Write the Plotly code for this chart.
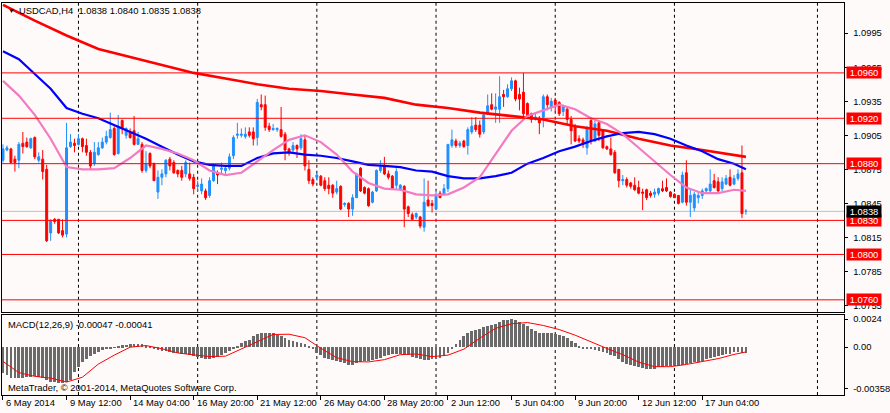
import plotly.graph_objects as go

# USDCAD H4 candles, bar 0 = 6 May 2014 20:00 (weekends skipped, 6 bars a day)
opens = [1.0883, 1.0892, 1.0893, 1.0884, 1.0883, 1.0898, 1.0899, 1.0894, 1.0903, 1.0883,
         1.0884, 1.0875, 1.0819, 1.0831, 1.0831, 1.0821, 1.0818, 1.0895, 1.0898, 1.0897,
         1.0902, 1.0896, 1.0890, 1.0880, 1.0888, 1.0894, 1.0899, 1.0903, 1.0911, 1.0889,
         1.0918, 1.0905, 1.0908, 1.0909, 1.0897, 1.0897, 1.0874, 1.0889, 1.0880, 1.0855,
         1.0868, 1.0871, 1.0884, 1.0881, 1.0874, 1.0874, 1.0871, 1.0871, 1.0868, 1.0860,
         1.0856, 1.0856, 1.0852, 1.0865, 1.0872, 1.0875, 1.0874, 1.0876, 1.0887, 1.0905,
         1.0905, 1.0904, 1.0908, 1.0908, 1.0903, 1.0932, 1.0932, 1.0913, 1.0910, 1.0910,
         1.0910, 1.0906, 1.0893, 1.0892, 1.0896, 1.0894, 1.0901, 1.0875, 1.0866, 1.0868,
         1.0869, 1.0865, 1.0861, 1.0861, 1.0855, 1.0860, 1.0844, 1.0845, 1.0840, 1.0850,
         1.0876, 1.0859, 1.0858, 1.0846, 1.0856, 1.0874, 1.0878, 1.0871, 1.0869, 1.0861,
         1.0858, 1.0860, 1.0842, 1.0835, 1.0833, 1.0833, 1.0824, 1.0848, 1.0845, 1.0840,
         1.0854, 1.0853, 1.0858, 1.0896, 1.0900, 1.0896, 1.0900, 1.0896, 1.0908, 1.0914,
         1.0914, 1.0908, 1.0925, 1.0932, 1.0928, 1.0928, 1.0941, 1.0939, 1.0946, 1.0953,
         1.0941, 1.0943, 1.0933, 1.0924, 1.0919, 1.0920, 1.0921, 1.0939, 1.0930, 1.0936,
         1.0934, 1.0926, 1.0928, 1.0919, 1.0913, 1.0902, 1.0901, 1.0894, 1.0918, 1.0900,
         1.0916, 1.0909, 1.0895, 1.0893, 1.0890, 1.0875, 1.0865, 1.0866, 1.0863, 1.0861,
         1.0859, 1.0855, 1.0857, 1.0854, 1.0853, 1.0854, 1.0858, 1.0859, 1.0855, 1.0853,
         1.0852, 1.0846, 1.0872, 1.0846, 1.0841, 1.0850, 1.0852, 1.0856, 1.0856, 1.0865,
         1.0864, 1.0858, 1.0862, 1.0868, 1.0862, 1.0867, 1.0872, 1.0838]
highs = [1.0897, 1.0896, 1.0894, 1.0887, 1.0899, 1.0908, 1.0903, 1.0903, 1.0904, 1.0890,
         1.0892, 1.0879, 1.0831, 1.0832, 1.0831, 1.0831, 1.0916, 1.0906, 1.0902, 1.0906,
         1.0903, 1.0902, 1.0892, 1.0899, 1.0899, 1.0903, 1.0909, 1.0925, 1.0913, 1.0923,
         1.0919, 1.0912, 1.0911, 1.0922, 1.0908, 1.0899, 1.0891, 1.0890, 1.0881, 1.0874,
         1.0875, 1.0884, 1.0886, 1.0883, 1.0875, 1.0878, 1.0883, 1.0881, 1.0871, 1.0865,
         1.0867, 1.0858, 1.0868, 1.0880, 1.0874, 1.0881, 1.0878, 1.0889, 1.0905, 1.0916,
         1.0911, 1.0912, 1.0912, 1.0912, 1.0937, 1.0941, 1.0940, 1.0916, 1.0915, 1.0912,
         1.0930, 1.0908, 1.0894, 1.0899, 1.0897, 1.0906, 1.0905, 1.0883, 1.0868, 1.0872,
         1.0870, 1.0868, 1.0868, 1.0862, 1.0865, 1.0861, 1.0846, 1.0846, 1.0853, 1.0872,
         1.0877, 1.0860, 1.0859, 1.0856, 1.0875, 1.0883, 1.0886, 1.0874, 1.0870, 1.0876,
         1.0862, 1.0861, 1.0843, 1.0837, 1.0837, 1.0834, 1.0867, 1.0865, 1.0848, 1.0855,
         1.0856, 1.0862, 1.0897, 1.0910, 1.0902, 1.0900, 1.0901, 1.0912, 1.0921, 1.0921,
         1.0918, 1.0925, 1.0941, 1.0942, 1.0942, 1.0957, 1.0945, 1.0950, 1.0956, 1.0954,
         1.0947, 1.0960, 1.0934, 1.0925, 1.0925, 1.0922, 1.0941, 1.0941, 1.0938, 1.0938,
         1.0935, 1.0932, 1.0930, 1.0922, 1.0915, 1.0905, 1.0903, 1.0913, 1.0921, 1.0918,
         1.0918, 1.0910, 1.0896, 1.0903, 1.0892, 1.0875, 1.0870, 1.0868, 1.0864, 1.0868,
         1.0865, 1.0858, 1.0858, 1.0856, 1.0858, 1.0859, 1.0865, 1.0867, 1.0856, 1.0854,
         1.0852, 1.0873, 1.0883, 1.0858, 1.0855, 1.0855, 1.0858, 1.0859, 1.0875, 1.0871,
         1.0868, 1.0868, 1.0870, 1.0875, 1.0870, 1.0875, 1.0896, 1.0840]
lows = [1.0881, 1.0891, 1.0880, 1.0873, 1.0876, 1.0889, 1.0894, 1.0893, 1.0884, 1.0881,
        1.0866, 1.0811, 1.0812, 1.0827, 1.0818, 1.0815, 1.0815, 1.0894, 1.0890, 1.0896,
        1.0890, 1.0887, 1.0875, 1.0878, 1.0887, 1.0893, 1.0897, 1.0902, 1.0887, 1.0888,
        1.0906, 1.0902, 1.0902, 1.0896, 1.0897, 1.0872, 1.0872, 1.0876, 1.0865, 1.0849,
        1.0861, 1.0868, 1.0874, 1.0871, 1.0868, 1.0865, 1.0868, 1.0865, 1.0853, 1.0856,
        1.0853, 1.0848, 1.0850, 1.0864, 1.0862, 1.0871, 1.0871, 1.0874, 1.0884, 1.0902,
        1.0903, 1.0902, 1.0903, 1.0896, 1.0896, 1.0927, 1.0909, 1.0908, 1.0909, 1.0908,
        1.0903, 1.0883, 1.0887, 1.0890, 1.0885, 1.0892, 1.0874, 1.0862, 1.0860, 1.0865,
        1.0860, 1.0856, 1.0853, 1.0850, 1.0853, 1.0839, 1.0842, 1.0833, 1.0834, 1.0850,
        1.0855, 1.0853, 1.0842, 1.0845, 1.0855, 1.0872, 1.0870, 1.0866, 1.0857, 1.0858,
        1.0856, 1.0824, 1.0833, 1.0830, 1.0831, 1.0823, 1.0820, 1.0842, 1.0837, 1.0839,
        1.0850, 1.0852, 1.0855, 1.0894, 1.0894, 1.0894, 1.0894, 1.0888, 1.0906, 1.0908,
        1.0903, 1.0906, 1.0923, 1.0927, 1.0916, 1.0916, 1.0930, 1.0938, 1.0944, 1.0935,
        1.0927, 1.0922, 1.0921, 1.0916, 1.0918, 1.0906, 1.0912, 1.0927, 1.0926, 1.0926,
        1.0922, 1.0922, 1.0915, 1.0897, 1.0899, 1.0898, 1.0894, 1.0888, 1.0897, 1.0899,
        1.0900, 1.0893, 1.0892, 1.0887, 1.0871, 1.0859, 1.0861, 1.0859, 1.0858, 1.0856,
        1.0853, 1.0839, 1.0848, 1.0850, 1.0850, 1.0852, 1.0855, 1.0855, 1.0850, 1.0850,
        1.0844, 1.0845, 1.0843, 1.0833, 1.0838, 1.0845, 1.0849, 1.0855, 1.0855, 1.0858,
        1.0855, 1.0856, 1.0861, 1.0860, 1.0861, 1.0865, 1.0832, 1.0835]
closes = [1.0893, 1.0894, 1.0881, 1.0881, 1.0897, 1.0895, 1.0895, 1.0902, 1.0886, 1.0886,
          1.0873, 1.0812, 1.0830, 1.0829, 1.0819, 1.0817, 1.0894, 1.0899, 1.0896, 1.0902,
          1.0895, 1.0890, 1.0878, 1.0890, 1.0894, 1.0899, 1.0904, 1.0910, 1.0888, 1.0913,
          1.0911, 1.0911, 1.0903, 1.0897, 1.0902, 1.0874, 1.0880, 1.0878, 1.0865, 1.0868,
          1.0871, 1.0883, 1.0878, 1.0872, 1.0871, 1.0868, 1.0881, 1.0867, 1.0858, 1.0861,
          1.0862, 1.0850, 1.0865, 1.0878, 1.0870, 1.0876, 1.0876, 1.0886, 1.0903, 1.0906,
          1.0906, 1.0906, 1.0905, 1.0902, 1.0934, 1.0930, 1.0912, 1.0910, 1.0911, 1.0911,
          1.0904, 1.0892, 1.0890, 1.0896, 1.0893, 1.0902, 1.0878, 1.0865, 1.0862, 1.0870,
          1.0861, 1.0858, 1.0858, 1.0854, 1.0858, 1.0840, 1.0845, 1.0840, 1.0850, 1.0871,
          1.0856, 1.0854, 1.0843, 1.0855, 1.0874, 1.0877, 1.0871, 1.0868, 1.0858, 1.0873,
          1.0861, 1.0840, 1.0836, 1.0831, 1.0836, 1.0825, 1.0846, 1.0843, 1.0843, 1.0853,
          1.0850, 1.0858, 1.0897, 1.0901, 1.0896, 1.0898, 1.0895, 1.0910, 1.0913, 1.0910,
          1.0906, 1.0923, 1.0931, 1.0928, 1.0930, 1.0939, 1.0939, 1.0946, 1.0953, 1.0937,
          1.0937, 1.0924, 1.0922, 1.0919, 1.0921, 1.0916, 1.0939, 1.0932, 1.0935, 1.0932,
          1.0924, 1.0930, 1.0919, 1.0909, 1.0900, 1.0900, 1.0897, 1.0912, 1.0900, 1.0915,
          1.0905, 1.0894, 1.0893, 1.0888, 1.0872, 1.0865, 1.0866, 1.0861, 1.0860, 1.0857,
          1.0854, 1.0854, 1.0850, 1.0852, 1.0855, 1.0858, 1.0856, 1.0856, 1.0851, 1.0850,
          1.0845, 1.0870, 1.0846, 1.0852, 1.0853, 1.0852, 1.0856, 1.0858, 1.0862, 1.0859,
          1.0856, 1.0864, 1.0867, 1.0861, 1.0867, 1.0871, 1.0836, 1.0838]
bars = list(range(len(closes)))

# moving averages (every 4th bar, slow one every 8th)
ma_bars = list(range(0, 188, 4)) + [187]
ma_slow_bars = list(range(0, 188, 8)) + [187]
ma_slow = [1.1020, 1.1006, 1.0993, 1.0981, 1.0974, 1.0967, 1.0960, 1.0955, 1.0950, 1.0946,
           1.0944, 1.0941, 1.0938, 1.0932, 1.0929, 1.0925, 1.0922, 1.0919, 1.0913, 1.0909,
           1.0902, 1.0896, 1.0892, 1.0888, 1.0886]
ma_mid = [1.0979, 1.0972, 1.0959, 1.0946, 1.0929, 1.0924, 1.0920, 1.0914, 1.0908, 1.0902,
          1.0895, 1.0888, 1.0882, 1.0879, 1.0878, 1.0878, 1.0885, 1.0889, 1.0890, 1.0888,
          1.0887, 1.0885, 1.0882, 1.0879, 1.0878, 1.0877, 1.0874, 1.0873, 1.0869, 1.0867,
          1.0867, 1.0869, 1.0872, 1.0880, 1.0885, 1.0891, 1.0895, 1.0900, 1.0904, 1.0907,
          1.0908, 1.0906, 1.0902, 1.0896, 1.0891, 1.0884, 1.0880, 1.0875]
ma_fast = [1.0953, 1.0940, 1.0923, 1.0902, 1.0877, 1.0875, 1.0875, 1.0876, 1.0885, 1.0896,
           1.0893, 1.0889, 1.0883, 1.0874, 1.0870, 1.0872, 1.0882, 1.0892, 1.0901, 1.0905,
           1.0899, 1.0888, 1.0873, 1.0863, 1.0858, 1.0857, 1.0853, 1.0852, 1.0853, 1.0859,
           1.0868, 1.0889, 1.0909, 1.0922, 1.0927, 1.0932, 1.0928, 1.0920, 1.0915, 1.0906,
           1.0894, 1.0882, 1.0870, 1.0859, 1.0854, 1.0854, 1.0857, 1.0856]

# MACD(12,26,9): main line as histogram, signal read every 4th bar
macd_main = [-0.00222, -0.00239, -0.00265, -0.00265, -0.00265, -0.00265, -0.00257, -0.00252, -0.00248, -0.00252,
             -0.00265, -0.00282, -0.00295, -0.00299, -0.00304, -0.00304, -0.00299, -0.00278, -0.00214, -0.00167,
             -0.00124, -0.00098, -0.00077, -0.00056, -0.00038, -0.00026, -0.00017, -0.00009, -0.00004, 0.00007,
             0.00017, 0.00024, 0.00030, 0.00032, 0.00030, 0.00026, 0.00013, 0.00004, -0.00011, -0.00021,
             -0.00028, -0.00034, -0.00040, -0.00045, -0.00051, -0.00056, -0.00060, -0.00064, -0.00071, -0.00081,
             -0.00094, -0.00100, -0.00103, -0.00094, -0.00086, -0.00066, -0.00051, -0.00028, -0.00009, 0.00011,
             0.00040, 0.00057, 0.00068, 0.00097, 0.00111, 0.00128, 0.00128, 0.00126, 0.00120, 0.00109,
             0.00097, 0.00077, 0.00062, 0.00057, 0.00043, 0.00034, 0.00026, 0.00006, -0.00017, -0.00045,
             -0.00066, -0.00094, -0.00103, -0.00109, -0.00114, -0.00124, -0.00137, -0.00154, -0.00148, -0.00137,
             -0.00126, -0.00120, -0.00114, -0.00109, -0.00103, -0.00090, -0.00074, -0.00064, -0.00057, -0.00056,
             -0.00057, -0.00062, -0.00068, -0.00081, -0.00094, -0.00103, -0.00109, -0.00107, -0.00100, -0.00097,
             -0.00094, -0.00071, -0.00049, -0.00009, 0.00028, 0.00060, 0.00100, 0.00122, 0.00137, 0.00151,
             0.00162, 0.00171, 0.00186, 0.00194, 0.00205, 0.00220, 0.00231, 0.00233, 0.00242, 0.00237,
             0.00220, 0.00205, 0.00186, 0.00156, 0.00137, 0.00122, 0.00122, 0.00122, 0.00120, 0.00114,
             0.00105, 0.00094, 0.00080, 0.00057, 0.00034, 0.00015, -0.00009, -0.00015, -0.00015, -0.00020,
             -0.00028, -0.00037, -0.00051, -0.00062, -0.00077, -0.00100, -0.00128, -0.00143, -0.00151, -0.00162,
             -0.00171, -0.00180, -0.00186, -0.00186, -0.00186, -0.00171, -0.00165, -0.00162, -0.00162, -0.00162,
             -0.00156, -0.00148, -0.00143, -0.00134, -0.00128, -0.00122, -0.00114, -0.00100, -0.00094, -0.00086,
             -0.00077, -0.00066, -0.00057, -0.00054, -0.00043, -0.00037, -0.00049, -0.00047]
macd_signal = [-0.00122, -0.00218, -0.00250, -0.00265, -0.00299, -0.00257, -0.00145, -0.00068, 0.00000, 0.00014,
               -0.00013, -0.00049, -0.00066, -0.00080, -0.00077, -0.00017, 0.00047, 0.00109, 0.00111, 0.00081,
               -0.00009, -0.00090, -0.00124, -0.00126, -0.00107, -0.00064, -0.00058, -0.00081, -0.00068, -0.00017,
               0.00077, 0.00162, 0.00201, 0.00211, 0.00186, 0.00151, 0.00103, 0.00043, -0.00011, -0.00064,
               -0.00128, -0.00167, -0.00167, -0.00148, -0.00126, -0.00098, -0.00062, -0.00041]

# horizontal levels and axis labels
levels = [1.0960, 1.0920, 1.0880, 1.0830, 1.0800, 1.0760]
last_price = 1.0838
price_ticks = [1.0755, 1.0785, 1.0815, 1.0845, 1.0875, 1.0905, 1.0935, 1.0965, 1.0995]
macd_ticks = [0.0024, 0.0, -0.00358]
macd_tick_text = ['0.0024', '0.00', '-0.00358']
time_labels = ['6 May 2014', '9 May 12:00', '14 May 04:00', '16 May 20:00', '21 May 12:00',
               '26 May 04:00', '28 May 20:00', '2 Jun 12:00', '5 Jun 04:00', '9 Jun 20:00',
               '12 Jun 12:00', '17 Jun 04:00']
time_label_bars = [0, 16, 32, 48, 64, 80, 96, 112, 128, 144, 160, 176]
grid_bars = [19, 49, 79, 109, 139, 169, 205]

# page geometry (pixels of the 890x413 window)
W, H = 890, 413
def fx(p): return p / W
def fy(p): return 1 - p / H

bull = '#1E90FF'
bear = '#FF0000'
bg = '#FFFAFA'
font = 'Liberation Sans'
fs = 9.4

fig = go.Figure()

fig.add_trace(go.Candlestick(
    x=bars, open=opens, high=highs, low=lows, close=closes,
    increasing=dict(line=dict(color=bull, width=1), fillcolor=bull),
    decreasing=dict(line=dict(color=bear, width=1), fillcolor=bear),
    whiskerwidth=0, xaxis='x', yaxis='y', hoverinfo='skip'))

fig.add_trace(go.Scatter(x=ma_slow_bars, y=ma_slow, mode='lines',
                         line=dict(color='#FF0000', width=2.6), xaxis='x', yaxis='y'))
fig.add_trace(go.Scatter(x=ma_bars, y=ma_mid, mode='lines',
                         line=dict(color='#0000FF', width=2.2), xaxis='x', yaxis='y'))
fig.add_trace(go.Scatter(x=ma_bars, y=ma_fast, mode='lines',
                         line=dict(color='#F27BC2', width=2.2), xaxis='x', yaxis='y'))

fig.add_trace(go.Bar(x=bars, y=macd_main, width=0.7, marker=dict(color='#6A6A6A', line=dict(width=0)),
                     xaxis='x2', yaxis='y2'))
fig.add_trace(go.Scatter(x=ma_bars, y=macd_signal, mode='lines',
                         line=dict(color='#FF0000', width=1), xaxis='x2', yaxis='y2'))

shapes = []
# vertical dotted grid in both panels
for b in grid_bars:
    for yr in ['y domain', 'y2 domain']:
        shapes.append(dict(type='line', xref='x', x0=b, x1=b, yref=yr, y0=0, y1=1, layer='below',
                           line=dict(color='black', width=1, dash='3px,3px')))
# support / resistance lines
for lv in levels:
    shapes.append(dict(type='line', xref='x domain', x0=0, x1=1, yref='y', y0=lv, y1=lv,
                       line=dict(color='#FF0000', width=1)))
shapes.append(dict(type='line', xref='x domain', x0=0, x1=1, yref='y', y0=last_price, y1=last_price,
                   layer='below', line=dict(color='#C0C0C0', width=1)))

annotations = []
for lv in levels:
    annotations.append(dict(text='%.4f' % lv, x=fx(852), xref='paper', xanchor='left',
                            y=lv, yref='y', yanchor='middle', showarrow=False,
                            bgcolor='#FF0000', font=dict(color='white', size=fs, family=font),
                            width=34, height=11, borderpad=0))
annotations.append(dict(text='%.4f' % last_price, x=fx(852), xref='paper', xanchor='left',
                        y=last_price, yref='y', yanchor='middle', showarrow=False,
                        bgcolor='black', font=dict(color='white', size=fs, family=font),
                        width=34, height=11, borderpad=0))
for lab, b in zip(time_labels, time_label_bars):
    annotations.append(dict(text=lab, x=b, xref='x2', xanchor='left', xshift=1,
                            y=fy(402), yref='paper', yanchor='middle', showarrow=False,
                            font=dict(color='black', size=fs, family=font)))
annotations.append(dict(text='\u25BC', x=fx(6), xref='paper', xanchor='left', y=fy(10), yref='paper',
                        yanchor='middle', showarrow=False, font=dict(color='black', size=7)))
annotations.append(dict(text='USDCAD,H4  %.4f %.4f %.4f %.4f' % (opens[-1], highs[-1], lows[-1], closes[-1]),
                        x=fx(17), xref='paper', xanchor='left', y=fy(10), yref='paper',
                        yanchor='middle', showarrow=False, font=dict(color='black', size=fs, family=font)))
annotations.append(dict(text='MACD(12,26,9) %.5f %.5f' % (macd_main[-1], macd_signal[-1]),
                        x=fx(6), xref='paper', xanchor='left', y=fy(324), yref='paper',
                        yanchor='middle', showarrow=False, font=dict(color='black', size=fs, family=font)))
annotations.append(dict(text='MetaTrader, \u00a9 2001-2014, MetaQuotes Software Corp.',
                        x=fx(6), xref='paper', xanchor='left', y=fy(387), yref='paper',
                        yanchor='middle', showarrow=False, font=dict(color='black', size=fs, family=font)))

axis_common = dict(showgrid=False, zeroline=False, showline=True, mirror=True,
                   linecolor='black', linewidth=1, fixedrange=True)

fig.update_layout(
    width=W, height=H, margin=dict(l=0, r=0, t=0, b=0),
    paper_bgcolor=bg, plot_bgcolor=bg, showlegend=False, bargap=0,
    font=dict(family=font, size=fs, color='black'),
    xaxis=dict(domain=[fx(2), fx(850)], range=[-0.25, 211.75], anchor='y',
               showticklabels=False, ticks='', rangeslider=dict(visible=False), **axis_common),
    yaxis=dict(domain=[fy(311.5), fy(2)], range=[1.07495, 1.10216], anchor='x', side='right',
               tickvals=price_ticks, tickformat='.4f', ticks='outside', ticklen=3,
               ticklabelstandoff=3, tickcolor='black', **axis_common),
    xaxis2=dict(domain=[fx(2), fx(850)], matches='x', anchor='y2', showticklabels=False,
                tickvals=time_label_bars, ticks='outside', ticklen=4, tickcolor='black', **axis_common),
    yaxis2=dict(domain=[fy(395), fy(314.5)], range=[-0.00410, 0.00278], anchor='x2', side='right',
                tickvals=macd_ticks, ticktext=macd_tick_text, ticks='outside', ticklen=3,
                ticklabelstandoff=3, tickcolor='black', **axis_common),
    shapes=shapes, annotations=annotations,
)

# the page body has a default margin; drop it so the chart sits at the window corner
fig.write_html('out.html', config={'displayModeBar': False},
               post_script="document.body.style.margin='0';document.body.style.background='%s';" % bg)
